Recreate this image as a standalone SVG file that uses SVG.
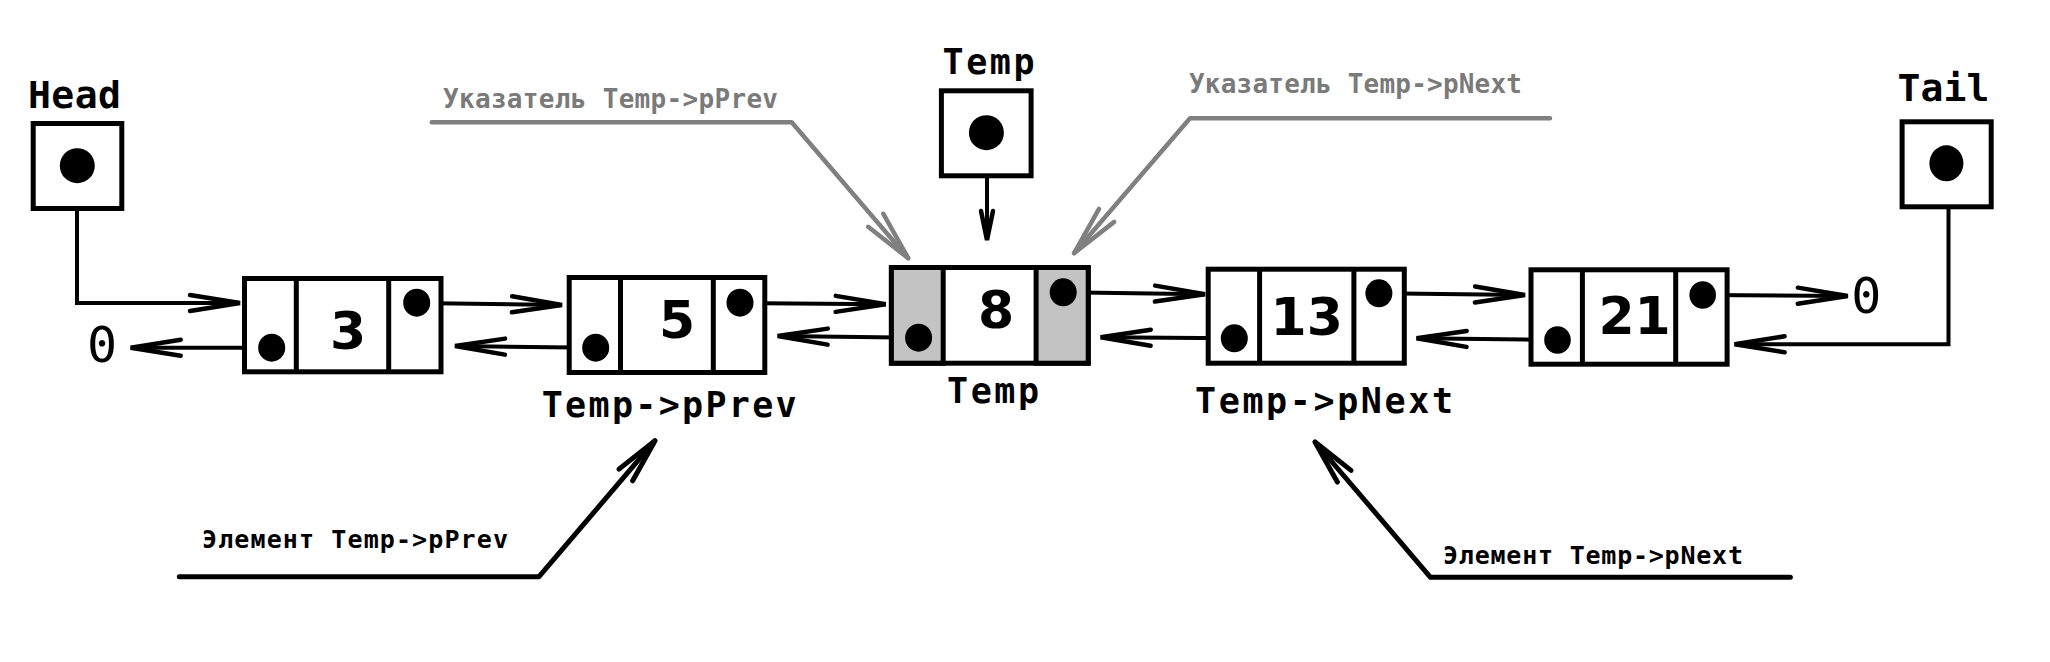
<svg xmlns="http://www.w3.org/2000/svg" width="2050" height="662" viewBox="0 0 2050 662">
<style>
.box{fill:#fff;stroke:#000;stroke-width:5}
.gbox{fill:#c3c3c3;stroke:#000;stroke-width:5}
.div{stroke:#000;stroke-width:5}
.dot{fill:#000}
.ln{fill:none;stroke:#000;stroke-width:4}
.gl{fill:none;stroke:#808080;stroke-width:4.5;stroke-linecap:round;stroke-linejoin:round}
.el{fill:none;stroke:#000;stroke-width:5;stroke-linecap:round;stroke-linejoin:round}
.lbl{font-family:"DejaVu Sans Mono",monospace;font-weight:bold;fill:#000}
.glbl{font-family:"DejaVu Sans Mono",monospace;font-weight:bold;fill:#7a7a7a}
.num{font-family:"DejaVu Sans",sans-serif;font-weight:bold;font-size:52px;fill:#000;text-anchor:middle}
.zero{font-family:"DejaVu Sans Mono",monospace;font-size:50px;fill:#000;text-anchor:middle}
</style>
<defs>
<marker id="arr" markerUnits="userSpaceOnUse" markerWidth="120" markerHeight="60" viewBox="-60 -30 120 60" refX="0" refY="0" orient="auto" overflow="visible">
<path d="M-50,-8 L0,0 L-50,8" fill="none" stroke="#000" stroke-width="4.5" stroke-linecap="round" stroke-linejoin="miter"/>
</marker>
<marker id="arrs" markerUnits="userSpaceOnUse" markerWidth="60" markerHeight="30" viewBox="-30 -15 60 30" refX="0" refY="0" orient="auto" overflow="visible">
<path d="M-29,-6 L0,0 L-29,6" fill="none" stroke="#000" stroke-width="4.5" stroke-linecap="round"/>
</marker>
<marker id="garr" markerUnits="userSpaceOnUse" markerWidth="120" markerHeight="60" viewBox="-60 -30 120 60" refX="0" refY="0" orient="auto" overflow="visible">
<path d="M-50,-10 L0,0 L-50,10" fill="none" stroke="#808080" stroke-width="4.5" stroke-linecap="round"/>
</marker>
<marker id="earr" markerUnits="userSpaceOnUse" markerWidth="120" markerHeight="60" viewBox="-60 -30 120 60" refX="0" refY="0" orient="auto" overflow="visible">
<path d="M-45,-9 L0,0 L-45,9" fill="none" stroke="#000" stroke-width="5" stroke-linecap="round"/>
</marker>
</defs>
<rect width="2050" height="662" fill="#fff"/>

<g id="connectors">
<path class="ln" d="M77,166 V303 H240" marker-end="url(#arr)"/>
<path class="ln" d="M987,133 V240" marker-end="url(#arrs)"/>
<path class="ln" d="M1948.5,163 V344.3 H1734.6" marker-end="url(#arr)"/>
<path class="ln" d="M417,303 L562,305" marker-end="url(#arr)"/>
<path class="ln" d="M740,303 L885.7,304.3" marker-end="url(#arr)"/>
<path class="ln" d="M1063,292.3 L1205,294.3" marker-end="url(#arr)"/>
<path class="ln" d="M1379,293.3 L1525,295" marker-end="url(#arr)"/>
<path class="ln" d="M1703,295 L1847.8,296" marker-end="url(#arr)"/>
<path class="ln" d="M272,347.7 L130.7,347.7" marker-end="url(#arr)"/>
<path class="ln" d="M596,347.7 L455,346" marker-end="url(#arr)"/>
<path class="ln" d="M918.6,337.7 L777.7,336" marker-end="url(#arr)"/>
<path class="ln" d="M1234.3,338.3 L1100.7,337.3" marker-end="url(#arr)"/>
<path class="ln" d="M1557.5,340 L1416.6,338.3" marker-end="url(#arr)"/>
<path class="gl" d="M431.7,122.3 H791.7 L908.3,258.3" marker-end="url(#garr)"/>
<path class="gl" d="M1550,118.3 H1190 L1074,253.3" marker-end="url(#garr)"/>
<path class="el" d="M179.3,576.7 H539 L655,440.7" marker-end="url(#earr)"/>
<path class="el" d="M1790.4,577.3 H1430.5 L1315,442" marker-end="url(#earr)"/>
</g>

<g id="head">
<text class="lbl" x="28" y="108" font-size="38" textLength="93">Head</text>
<rect class="box" x="33.2" y="123.5" width="88.6" height="85"/>
<circle class="dot" cx="77.3" cy="165.7" r="17.5"/>
</g>

<g id="temp-ptr">
<text class="lbl" x="942.5" y="74.3" font-size="35" textLength="92">Temp</text>
<rect class="box" x="941.4" y="90.8" width="89.7" height="85"/>
<circle class="dot" cx="986.4" cy="132.7" r="17.5"/>
</g>

<g id="tail">
<text class="lbl" x="1897.5" y="100.7" font-size="38" textLength="92">Tail</text>
<rect class="box" x="1902.1" y="121.8" width="89.1" height="85"/>
<ellipse class="dot" cx="1946.4" cy="163.3" rx="17" ry="18"/>
</g>

<g id="node3">
<rect class="box" x="244.5" y="278.5" width="196.5" height="93.3"/>
<line class="div" x1="296.3" y1="278.5" x2="296.3" y2="371.8"/>
<line class="div" x1="388.7" y1="278.5" x2="388.7" y2="371.8"/>
<text class="num" x="348" y="349">3</text>
<ellipse class="dot" cx="416.7" cy="302.7" rx="13.5" ry="14"/>
<ellipse class="dot" cx="271.7" cy="347.7" rx="13.5" ry="14"/>
</g>

<g id="node5">
<rect class="box" x="569.2" y="277.5" width="195.6" height="95"/>
<line class="div" x1="620.5" y1="277.5" x2="620.5" y2="372.5"/>
<line class="div" x1="713.3" y1="277.5" x2="713.3" y2="372.5"/>
<text class="num" x="677" y="337.7">5</text>
<ellipse class="dot" cx="740" cy="302.7" rx="13.5" ry="14"/>
<ellipse class="dot" cx="595.7" cy="347.7" rx="13.5" ry="14"/>
</g>

<g id="node8">
<rect class="box" x="891.4" y="267.5" width="196.8" height="95.7"/>
<rect class="gbox" x="891.4" y="267.5" width="51.8" height="95.7"/>
<rect class="gbox" x="1036.1" y="267.5" width="52.1" height="95.7"/>
<text class="num" x="996" y="328.3">8</text>
<ellipse class="dot" cx="1063.2" cy="292.3" rx="13.5" ry="14"/>
<ellipse class="dot" cx="918.6" cy="337.7" rx="13.5" ry="14"/>
</g>

<g id="node13">
<rect class="box" x="1208.2" y="269.2" width="196.1" height="94"/>
<line class="div" x1="1259.6" y1="269.2" x2="1259.6" y2="363.2"/>
<line class="div" x1="1353.9" y1="269.2" x2="1353.9" y2="363.2"/>
<text class="num" x="1306.8" y="335">13</text>
<ellipse class="dot" cx="1378.9" cy="293.3" rx="13.5" ry="14"/>
<ellipse class="dot" cx="1234.3" cy="338.3" rx="13.5" ry="14"/>
</g>

<g id="node21">
<rect class="box" x="1531" y="269.8" width="196.1" height="94.4"/>
<line class="div" x1="1582.4" y1="269.8" x2="1582.4" y2="364.2"/>
<line class="div" x1="1675.7" y1="269.8" x2="1675.7" y2="364.2"/>
<text class="num" x="1634.6" y="334">21</text>
<ellipse class="dot" cx="1702.7" cy="295" rx="13.3" ry="13.7"/>
<ellipse class="dot" cx="1557.5" cy="340" rx="13.3" ry="13.7"/>
</g>

<g id="null-left"><text class="zero" x="102" y="361.7">0</text></g>
<g id="null-right"><text class="zero" x="1866.4" y="312.7">0</text></g>

<g id="labels">
<text class="lbl" x="947" y="403.3" font-size="35" textLength="92">Temp</text>
<text class="lbl" x="541.7" y="416.7" font-size="35" textLength="255">Temp-&gt;pPrev</text>
<text class="lbl" x="1195" y="413.3" font-size="35" textLength="258">Temp-&gt;pNext</text>
<text class="glbl" x="443" y="107.7" font-size="26" textLength="335">Указатель Temp-&gt;pPrev</text>
<text class="glbl" x="1189" y="93.3" font-size="26" textLength="333">Указатель Temp-&gt;pNext</text>
<text class="lbl" x="202" y="548.3" font-size="25" textLength="306">Элемент Temp-&gt;pPrev</text>
<text class="lbl" x="1443" y="564" font-size="25" textLength="300">Элемент Temp-&gt;pNext</text>
</g>
</svg>
